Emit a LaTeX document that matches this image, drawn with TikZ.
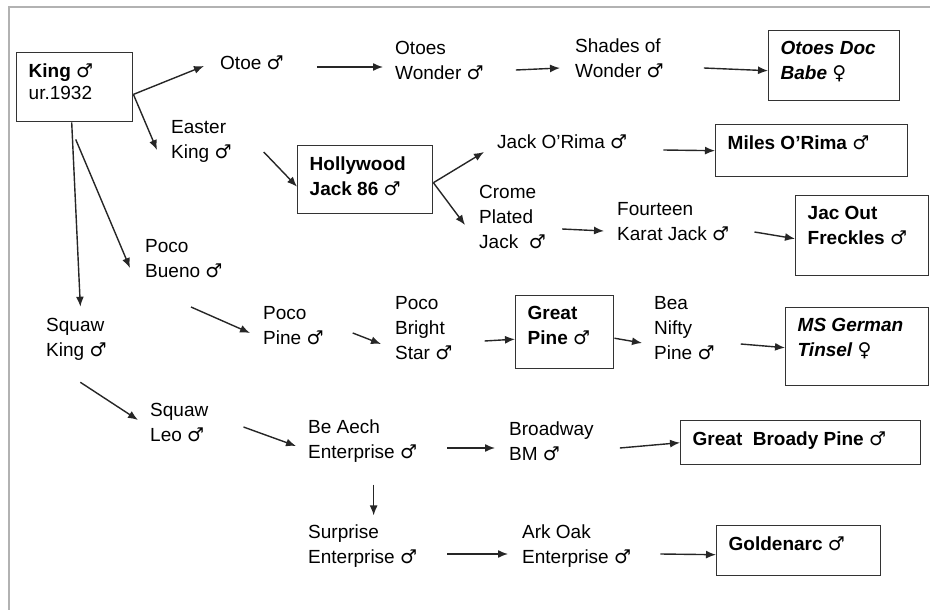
\documentclass[tikz,border=0pt]{standalone}
\usepackage{fontspec}
\setmainfont{Liberation Sans}
\newfontfamily\symfont[Scale=1.0]{DejaVu Sans}
\usetikzlibrary{arrows.meta}
\newcommand{\mal}{{\symfont ♂}}
\newcommand{\fem}{{\symfont ♀}}
\newcommand{\boxtext}[3]{\parbox[t][#2][t]{#1}{#3}}
\tikzstyle{horse} = [align=left, anchor=west, inner sep=0pt]
\tikzstyle{box} = [draw=black!80, line width=1.4pt, anchor=north west, inner xsep=12pt, inner ysep=11pt]
\tikzstyle{arr} = [-{Latex[length=10pt,width=8pt]}, line width=1.4pt, black!85]

\begin{document}
\begin{tikzpicture}
            [x=1pt,y=-1pt,every node/.style={font=\fontsize{19}{25}\selectfont}]
              \useasboundingbox (0,0) rectangle (930,610);
              \draw [gray!60, line width=1.5pt] (930,7) -- (9,7) -- (9,610);

              % boxed horses
              \node [box](king) at (16,52) {\boxtext{92pt}{47pt}{\textbf{King} \mal\\[-3pt]ur.1932}};
              \node [box](docbabe) at (768,30) {\boxtext{107pt}{48pt}{{\bfseries\itshape Otoes Doc\\Babe} \fem}};
              \node [box](holly) at (297,145) {\boxtext{111pt}{46pt}{{\bfseries Hollywood\\Jack 86} \mal}};
              \node [box](miles) at (715,124) {\boxtext{168pt}{30pt}{\textbf{Miles O'Rima} \mal}};
              \node [box](jacout) at (795,195) {\boxtext{109pt}{58pt}{{\bfseries Jac Out\\Freckles} \mal}};
              \node [box](greatpine) at (515,295) {\boxtext{74pt}{51pt}{{\bfseries Great\\Pine} \mal}};
              \node [box](tinsel) at (785,307) {\boxtext{119pt}{56pt}{{\bfseries\itshape MS German\\Tinsel} \fem}};
              \node [box](broady) at (680,420) {\boxtext{216pt}{22pt}{\textbf{Great~ Broady Pine} \mal}};
              \node [box](goldenarc) at (716,525) {\boxtext{140pt}{28pt}{\textbf{Goldenarc} \mal}};

              % plain horses
              \node [horse](otoe) at (220,63) {Otoe \mal};
              \node [horse](otoesw) at (395,61) {Otoes\\Wonder \mal};
              \node [horse](shades) at (575,58) {Shades of\\Wonder \mal};
              \node [horse](easter) at (171,141) {Easter\\King \mal};
              \node [horse](jackor) at (497,142) {Jack O'Rima \mal};
              \node [horse](crome) at (479,217) {Crome\\Plated\\Jack~ \mal};
              \node [horse](fourteen) at (617,222) {Fourteen\\Karat Jack \mal};
              \node [horse](pocobueno) at (145,259) {Poco\\Bueno \mal};
              \node [horse](squawk) at (46,339) {Squaw\\King \mal};
              \node [horse](pocopine) at (263,326) {Poco\\Pine \mal};
              \node [horse](brightstar) at (395,328) {Poco\\Bright\\Star \mal};
              \node [horse](beanifty) at (654,328) {Bea\\Nifty\\Pine \mal};
              \node [horse](squawleo) at (150,422) {Squaw\\Leo \mal};
              \node [horse](beaech) at (308,441) {Be Aech\\Enterprise \mal};
              \node [horse](broadway) at (509,441) {Broadway\\BM \mal};
              \node [horse](surprise) at (308,546) {Surprise\\Enterprise \mal};
              \node [horse](arkoak) at (522,546) {Ark Oak\\Enterprise \mal};

              \draw [arr] (king.-7) -- ([shift={(-16,3)}]otoe.west);
              \draw [arr] (king.-7) -- ([shift={(-14,9)}]easter.west);
              \draw [arr] ([shift={(-3,0)}]king.south) -- ([shift={(4,-11)}]squawk.north);
              \draw [arr] ([shift={(1,17)}]king.south) -- ([shift={(-15,9)}]pocobueno.west);
              \draw [arr] ([shift={(33,4)}]otoe.east) -- ([shift={(-12,6)}]otoesw.west);
              \draw [arr] ([shift={(32,9)}]otoesw.east) -- ([shift={(-15,10)}]shades.west);
              \draw [arr] ([shift={(40,10)}]shades.east) -- ([shift={(0,5)}]docbabe.west);
              \draw [arr] ([shift={(32,11)}]easter.east) -- ([shift={(0,7)}]holly.west);
              \draw [arr] ([shift={(0,3)}]holly.east) -- ([shift={(-13,10)}]jackor.west);
              \draw [arr] ([shift={(0,3)}]holly.east) -- ([shift={(-14,8)}]crome.west);
              \draw [arr] ([shift={(36,8)}]jackor.east) -- (miles.west);
              \draw [arr] ([shift={(16,12)}]crome.east) -- ([shift={(-13,9)}]fourteen.west);
              \draw [arr] ([shift={(25,10)}]fourteen.east) -- ([shift={(0,3)}]jacout.west);
              \draw [arr] ([shift={(46,48)}]pocobueno.west) -- ([shift={(-13,7)}]pocopine.west);
              \draw [arr] ([shift={(29,7)}]pocopine.east) -- ([shift={(-14,16)}]brightstar.west);
              \draw [arr] ([shift={(32,13)}]brightstar.east) -- ([shift={(0,7)}]greatpine.west);
              \draw [arr] ([shift={(0,6)}]greatpine.east) -- ([shift={(-12,15)}]beanifty.west);
              \draw [arr] ([shift={(26,16)}]beanifty.east) -- ([shift={(0,1)}]tinsel.west);
              \draw [arr] ([shift={(4,22)}]squawk.south) -- ([shift={(-12,-2)}]squawleo.west);
              \draw [arr] ([shift={(35,5)}]squawleo.east) -- ([shift={(-12,5)}]beaech.west);
              \draw [arr] ([shift={(30,7)}]beaech.east) -- ([shift={(-14,7)}]broadway.west);
              \draw [arr] ([shift={(26,7)}]broadway.east) -- (broady.west);
              \draw [arr] ([shift={(11,22)}]beaech.south) -- ([shift={(11,-9)}]surprise.north);
              \draw [arr] ([shift={(30,8)}]surprise.east) -- ([shift={(-14,8)}]arkoak.west);
              \draw [arr] ([shift={(29,8)}]arkoak.east) -- ([shift={(0,4)}]goldenarc.west);
            \end{tikzpicture}
\end{document}
